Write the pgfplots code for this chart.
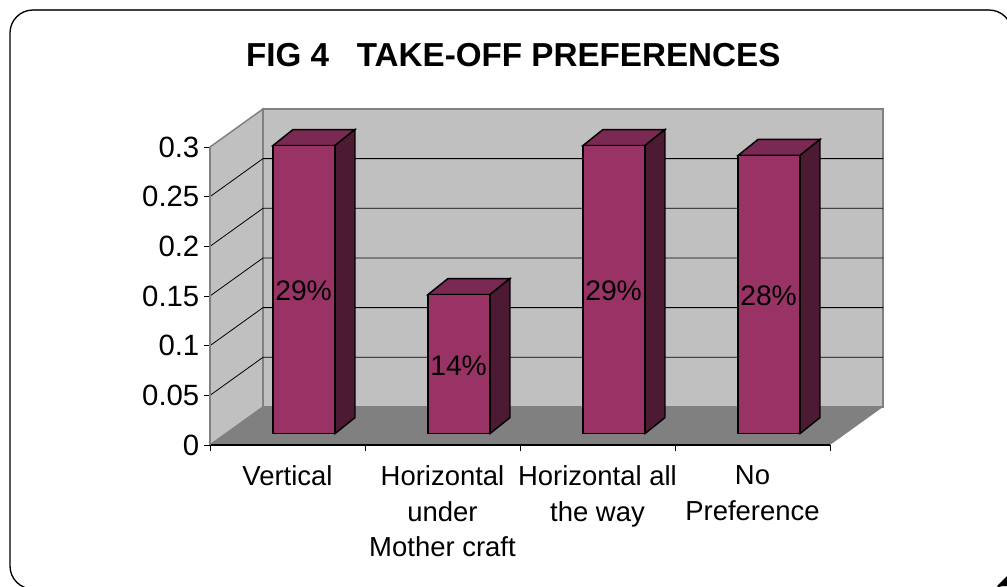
\documentclass[border=0pt]{standalone}
\usepackage{fontspec}
\setmainfont{Liberation Sans}
\usepackage{pgfplots}
\pgfplotsset{compat=1.18}
\definecolor{wall}{HTML}{C0C0C0}
\definecolor{floorc}{HTML}{808080}
\definecolor{barfront}{HTML}{993366}
\definecolor{bartop}{HTML}{7A2952}
\definecolor{barside}{HTML}{4D1A33}
% 1 px of the reference = 0.75pt
\begin{document}
\begin{tikzpicture}
\clip (0,0) rectangle (755.25pt,439.5pt);
\fill[black] (747.75pt,0pt) -- (755.25pt,7.5pt) -- (755.25pt,0pt) -- cycle;
\draw[black,line width=1pt,rounded corners=17.25pt] (7.5pt,-2.25pt) rectangle (759pt,432pt);
\draw[black!75,line width=1.5pt] (25pt,432pt) -- (742pt,432pt);
\node[font=\fontsize{24.9}{30}\selectfont\bfseries] at (385pt,398pt) {FIG 4\ \ \ TAKE-OFF PREFERENCES};
\begin{axis}[
    at={(157.5pt,105.75pt)}, anchor=origin,
    scale only axis, width=465pt, height=223.5pt,
    xmin=0, xmax=4, ymin=0, ymax=0.3,
    clip=false, axis on top,
    axis lines*=left,
    axis line style={black,line width=1pt},
    y axis line style={floorc,line width=1.1pt},
    tick align=outside,
    tick style={black,line width=0.6pt},
    major tick length=4.5pt, minor tick length=4.5pt,
    xtick={0.5,1.5,2.5,3.5},
    minor xtick={0,1,2,3,4},
    x tick style={draw=none},
    minor x tick style={black,draw=black},
    xticklabels={Vertical,{Horizontal\\under\\Mother craft},{Horizontal all\\the way},{No\\Preference}},
    xticklabel style={align=center,font=\fontsize{20.6}{26.6}\selectfont,yshift=-7.75pt},
    ytick={0,0.05,0.1,0.15,0.2,0.25,0.3},
    yticklabel style={font=\fontsize{22}{26}\selectfont},
    /pgf/number format/assume math mode=true,
    /pgf/number format/fixed,
    /pgf/number format/precision=2,
    wallp/.style={fill=wall,draw=floorc,line width=1.1pt,forget plot},
    gridl/.style={black,line width=0.6pt,mark=none,forget plot},
    shifted/.style={xshift=12.375pt,yshift=8.55pt,forget plot},
    topf/.style={shifted,fill=bartop,draw=black,line width=1.1pt,line join=miter},
    sidef/.style={shifted,fill=barside,draw=black,line width=1.1pt,line join=miter},
    frontf/.style={shifted,ybar,bar width=46.5pt,bar shift=0pt,fill=barfront,draw=black,line width=1.1pt},
]
% side wall, back wall, floor
\addplot[wallp] coordinates {(0,0)(0.342,0.0383)(0.342,0.3383)(0,0.3)} -- cycle;
\addplot[wallp] coordinates {(0.342,0.0383)(4.342,0.0383)(4.342,0.3383)(0.342,0.3383)} -- cycle;
\addplot[fill=floorc,draw=none,forget plot] coordinates {(0,0)(4,0)(4.342,0.0383)(0.342,0.0383)} -- cycle;
% gridlines on the walls
\addplot[gridl] coordinates {(0,0.05)(0.342,0.0883)(4.342,0.0883)};
\addplot[gridl] coordinates {(0,0.10)(0.342,0.1383)(4.342,0.1383)};
\addplot[gridl] coordinates {(0,0.15)(0.342,0.1883)(4.342,0.1883)};
\addplot[gridl] coordinates {(0,0.20)(0.342,0.2383)(4.342,0.2383)};
\addplot[gridl] coordinates {(0,0.25)(0.342,0.2883)(4.342,0.2883)};
% bar 1
\addplot[topf] coordinates {(0.3,0.29)(0.7,0.29)(0.829,0.3061)(0.429,0.3061)} -- cycle;
\addplot[sidef] coordinates {(0.7,0)(0.829,0.0161)(0.829,0.3061)(0.7,0.29)} -- cycle;
% bar 2
\addplot[topf] coordinates {(1.3,0.14)(1.7,0.14)(1.829,0.1561)(1.429,0.1561)} -- cycle;
\addplot[sidef] coordinates {(1.7,0)(1.829,0.0161)(1.829,0.1561)(1.7,0.14)} -- cycle;
% bar 3
\addplot[topf] coordinates {(2.3,0.29)(2.7,0.29)(2.829,0.3061)(2.429,0.3061)} -- cycle;
\addplot[sidef] coordinates {(2.7,0)(2.829,0.0161)(2.829,0.3061)(2.7,0.29)} -- cycle;
% bar 4
\addplot[topf] coordinates {(3.3,0.28)(3.7,0.28)(3.829,0.2961)(3.429,0.2961)} -- cycle;
\addplot[sidef] coordinates {(3.7,0)(3.829,0.0161)(3.829,0.2961)(3.7,0.28)} -- cycle;
% front faces
\addplot[frontf] coordinates {(0.5,0.29)(1.5,0.14)(2.5,0.29)(3.5,0.28)};
% data labels, at half height
\addplot[shifted,draw=none,mark=none,
    nodes near coords,point meta=explicit symbolic,
    every node near coord/.append style={anchor=center,inner sep=0pt,xshift=-0.3pt,yshift=-1pt,font=\fontsize{21.2}{25}\selectfont}]
    table[meta=label] {
    x   y     label
    0.5 0.145 29\%
    1.5 0.07  14\%
    2.5 0.145 29\%
    3.5 0.14  28\%
};
\end{axis}
\end{tikzpicture}
\end{document}
